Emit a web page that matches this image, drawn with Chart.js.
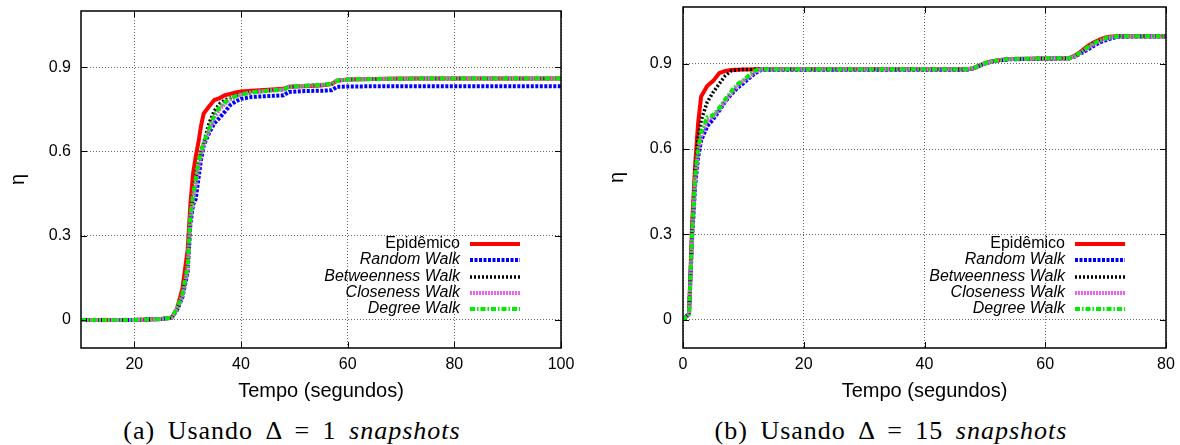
<!DOCTYPE html>
<html>
<head>
<meta charset="utf-8">
<script src="https://cdn.jsdelivr.net/npm/chart.js@4.4.1/dist/chart.umd.min.js"></script>
<style>
  body { margin: 0; background: #fff; width: 1180px; height: 445px; overflow: hidden; position: relative; }
  .box { position: absolute; top: 0; width: 590px; height: 403px; }
  .cap { position: absolute; top: 416px; text-align: center; font-family: "Liberation Serif", serif;
         font-size: 26px; line-height: 30px; letter-spacing: 1px; word-spacing: 5px; color: #000; white-space: nowrap; }
</style>
</head>
<body>
<div class="box" style="left:0"><canvas id="chartA" width="590" height="403"></canvas></div>
<div class="box" style="left:590px"><canvas id="chartB" width="590" height="403"></canvas></div>
<div class="cap" style="left:0;width:584px">(a) Usando &Delta; = 1 <i>snapshots</i></div>
<div class="cap" style="left:600px;width:582px">(b) Usando &Delta; = 15 <i>snapshots</i></div>
<script>
const seriesNames = ["Epidêmico", "Random Walk", "Betweenness Walk", "Closeness Walk", "Degree Walk"];

// (a) delta = 1
const timeA = [10, 20, 25, 27, 28, 29, 30, 30.5, 31, 31.5, 32, 32.5, 33, 34, 35, 36, 37, 38, 39, 40, 42, 45, 48, 49, 52, 55, 57, 58, 60, 65, 70, 80, 90, 100];
const epiA  = [0, 0, 0.003, 0.008, 0.04, 0.11, 0.25, 0.41, 0.52, 0.58, 0.63, 0.69, 0.735, 0.76, 0.783, 0.79, 0.80, 0.805, 0.81, 0.813, 0.816, 0.82, 0.823, 0.83, 0.832, 0.835, 0.84, 0.852, 0.856, 0.858, 0.86, 0.86, 0.86, 0.86];
const randA = [0, 0, 0.003, 0.008, 0.035, 0.08, 0.17, 0.34, 0.41, 0.43, 0.50, 0.57, 0.62, 0.665, 0.70, 0.72, 0.742, 0.765, 0.778, 0.787, 0.794, 0.797, 0.80, 0.812, 0.815, 0.816, 0.818, 0.83, 0.831, 0.832, 0.832, 0.832, 0.832, 0.832];
const betA  = [0, 0, 0.003, 0.008, 0.04, 0.09, 0.19, 0.37, 0.44, 0.50, 0.56, 0.60, 0.63, 0.70, 0.745, 0.77, 0.783, 0.79, 0.798, 0.803, 0.81, 0.816, 0.82, 0.83, 0.834, 0.837, 0.84, 0.852, 0.856, 0.858, 0.859, 0.86, 0.86, 0.86];
const cloA  = [0, 0, 0.003, 0.008, 0.04, 0.085, 0.18, 0.36, 0.43, 0.48, 0.54, 0.59, 0.625, 0.675, 0.72, 0.75, 0.77, 0.785, 0.795, 0.802, 0.81, 0.816, 0.82, 0.83, 0.834, 0.837, 0.84, 0.852, 0.856, 0.858, 0.859, 0.86, 0.86, 0.86];
const degA  = [0, 0, 0.003, 0.008, 0.04, 0.09, 0.19, 0.37, 0.44, 0.50, 0.56, 0.60, 0.63, 0.68, 0.73, 0.758, 0.775, 0.788, 0.797, 0.803, 0.81, 0.816, 0.82, 0.83, 0.834, 0.837, 0.84, 0.852, 0.856, 0.858, 0.859, 0.86, 0.86, 0.86];

// (b) delta = 15
const timeB = [0, 1, 1.5, 2, 2.5, 3, 4, 5, 6, 7, 8, 9, 10, 11, 12, 13, 20, 30, 40, 47, 48, 49, 50, 51, 52, 54, 57, 60, 64, 65, 66, 67, 68, 69, 70, 71, 72, 74, 80];
const epiB  = [0, 0.02, 0.33, 0.54, 0.69, 0.785, 0.822, 0.84, 0.867, 0.875, 0.878, 0.879, 0.88, 0.88, 0.881, 0.881, 0.881, 0.881, 0.881, 0.881, 0.884, 0.893, 0.902, 0.908, 0.912, 0.917, 0.918, 0.919, 0.92, 0.93, 0.945, 0.962, 0.975, 0.985, 0.993, 0.996, 0.997, 0.997, 0.997];
const randB = [0, 0.02, 0.28, 0.47, 0.57, 0.63, 0.68, 0.705, 0.735, 0.768, 0.793, 0.815, 0.832, 0.85, 0.868, 0.879, 0.879, 0.879, 0.879, 0.879, 0.883, 0.892, 0.901, 0.907, 0.911, 0.916, 0.917, 0.918, 0.919, 0.926, 0.938, 0.95, 0.963, 0.975, 0.983, 0.99, 0.995, 0.996, 0.996];
const betB  = [0, 0.02, 0.32, 0.52, 0.64, 0.70, 0.765, 0.80, 0.83, 0.858, 0.875, 0.879, 0.88, 0.88, 0.881, 0.881, 0.881, 0.881, 0.881, 0.881, 0.884, 0.893, 0.902, 0.908, 0.912, 0.917, 0.918, 0.919, 0.92, 0.928, 0.942, 0.958, 0.972, 0.982, 0.99, 0.995, 0.997, 0.997, 0.997];
const cloB  = [0, 0.02, 0.29, 0.49, 0.59, 0.645, 0.70, 0.715, 0.74, 0.77, 0.798, 0.822, 0.84, 0.855, 0.873, 0.881, 0.881, 0.881, 0.881, 0.881, 0.884, 0.893, 0.902, 0.908, 0.912, 0.917, 0.918, 0.919, 0.92, 0.927, 0.94, 0.955, 0.969, 0.98, 0.988, 0.994, 0.996, 0.997, 0.997];
const degB  = [0, 0.02, 0.30, 0.50, 0.60, 0.66, 0.712, 0.72, 0.744, 0.775, 0.803, 0.828, 0.843, 0.861, 0.877, 0.881, 0.881, 0.881, 0.881, 0.881, 0.884, 0.893, 0.902, 0.908, 0.912, 0.917, 0.918, 0.919, 0.92, 0.928, 0.942, 0.958, 0.972, 0.982, 0.99, 0.995, 0.997, 0.997, 0.997];

const xTicksA = [20, 40, 60, 80, 100];
const xTicksB = [0, 20, 40, 60, 80];
const yTicks = [0, 0.3, 0.6, 0.9];

// gnuplot-ish line types
const lineStyles = [
  { color: "#ff0000", width: 4, dash: [] },
  { color: "#0000ff", width: 4, dash: [3, 1.5] },
  { color: "#000000", width: 3.5, dash: [2, 2] },
  { color: "#f060f0", width: 4, dash: [2, 1] },
  { color: "#00ee00", width: 4, dash: [5, 2, 1.5, 2] },
];

const FONT = "'Liberation Sans', Arial, sans-serif";

// frame, inward tick marks and the key (text left of the sample)
const framePlugin = {
  id: "frame",
  afterDatasetsDraw(chart) {
    const { ctx, chartArea: a, scales } = chart;
    const keyEnd = chart.options.plugins.frame.keyEnd;
    ctx.save();
    ctx.strokeStyle = "#000";
    ctx.lineWidth = 1;
    ctx.setLineDash([]);
    ctx.beginPath();
    scales.x.ticks.forEach(t => {
      const px = Math.round(scales.x.getPixelForValue(t.value)) + 0.5;
      ctx.moveTo(px, a.bottom); ctx.lineTo(px, a.bottom - 6);
      ctx.moveTo(px, a.top); ctx.lineTo(px, a.top + 6);
    });
    scales.y.ticks.forEach(t => {
      const py = Math.round(scales.y.getPixelForValue(t.value)) + 0.5;
      ctx.moveTo(a.left, py); ctx.lineTo(a.left + 6, py);
      ctx.moveTo(a.right, py); ctx.lineTo(a.right - 6, py);
    });
    ctx.stroke();
    ctx.lineWidth = 1.5;
    ctx.strokeRect(a.left, a.top, a.right - a.left, a.bottom - a.top);

    // key
    const x1 = Math.round(a.right - keyEnd);
    chart.data.datasets.forEach((ds, i) => {
      const y = Math.round(a.bottom - 104 + i * 16.3);
      ctx.font = (i > 0 ? "italic " : "") + "16px " + FONT;
      ctx.fillStyle = "#000";
      ctx.textAlign = "right";
      ctx.textBaseline = "middle";
      ctx.fillText(ds.label, x1 - 60, y);
      ctx.beginPath();
      ctx.strokeStyle = ds.borderColor;
      ctx.lineWidth = ds.borderWidth;
      ctx.setLineDash(ds.borderDash);
      ctx.lineCap = "butt";
      ctx.moveTo(x1 - 50, y);
      ctx.lineTo(x1, y);
      ctx.stroke();
    });
    ctx.restore();
  }
};

function noEdgePadding(s) {
  s.paddingTop = 0; s.paddingBottom = 0; s.paddingLeft = 0; s.paddingRight = 0;
}

function makeChart(id, times, series, xMin, xMax, xTicks, box) {
  return new Chart(document.getElementById(id), {
    type: "line",
    data: {
      datasets: series.map((vals, i) => ({
        label: seriesNames[i],
        data: times.map((t, k) => ({ x: t, y: vals[k] })),
        borderColor: lineStyles[i].color,
        borderWidth: lineStyles[i].width,
        borderDash: lineStyles[i].dash,
        borderCapStyle: "butt",
        borderJoinStyle: "miter",
        pointRadius: 0,
        tension: 0,
        order: series.length - 1 - i,
      })),
    },
    options: {
      responsive: false,
      animation: false,
      devicePixelRatio: 1,
      layout: { padding: { left: 0, right: box.right, top: box.top, bottom: 0 } },
      plugins: { legend: { display: false }, tooltip: { enabled: false }, frame: { keyEnd: box.keyEnd } },
      scales: {
        x: {
          type: "linear",
          min: xMin,
          max: xMax,
          afterBuildTicks: s => { s.ticks = xTicks.map(v => ({ value: v })); },
          afterFit: s => { s.height = box.xh; noEdgePadding(s); },
          grid: { color: "#666", lineWidth: 1, drawTicks: false },
          border: { display: false, dash: [1, 2] },
          ticks: { color: "#000", padding: 7, maxRotation: 0, font: { family: FONT, size: 16 }, callback: v => String(v) },
          title: { display: true, text: "Tempo (segundos)", color: "#000", padding: { top: 0, bottom: 0 }, font: { family: FONT, size: 20 } },
        },
        y: {
          type: "linear",
          min: -0.1,
          max: 1.1,
          afterBuildTicks: s => { s.ticks = yTicks.map(v => ({ value: v })); },
          afterFit: s => { s.width = box.yw; noEdgePadding(s); },
          grid: { color: "#666", lineWidth: 1, drawTicks: false },
          border: { display: false, dash: [1, 2] },
          ticks: { color: "#000", padding: box.tp, font: { family: FONT, size: 16 }, callback: v => String(v) },
          title: { display: true, text: "η", color: "#000", padding: { top: box.ttp, bottom: 0 }, font: { family: FONT, size: 20 } },
        },
      },
    },
    plugins: [framePlugin],
  });
}

makeChart("chartA", timeA, [epiA, randA, betA, cloA, degA], 10, 100, xTicksA,
  { right: 29, top: 11, xh: 55, yw: 81, tp: 10, ttp: 6.5, keyEnd: 41 });
makeChart("chartB", timeB, [epiB, randB, betB, cloB, degB], 0, 80, xTicksB,
  { right: 14, top: 7, xh: 55, yw: 93, tp: 11, ttp: 15, keyEnd: 41 });
</script>
</body>
</html>
